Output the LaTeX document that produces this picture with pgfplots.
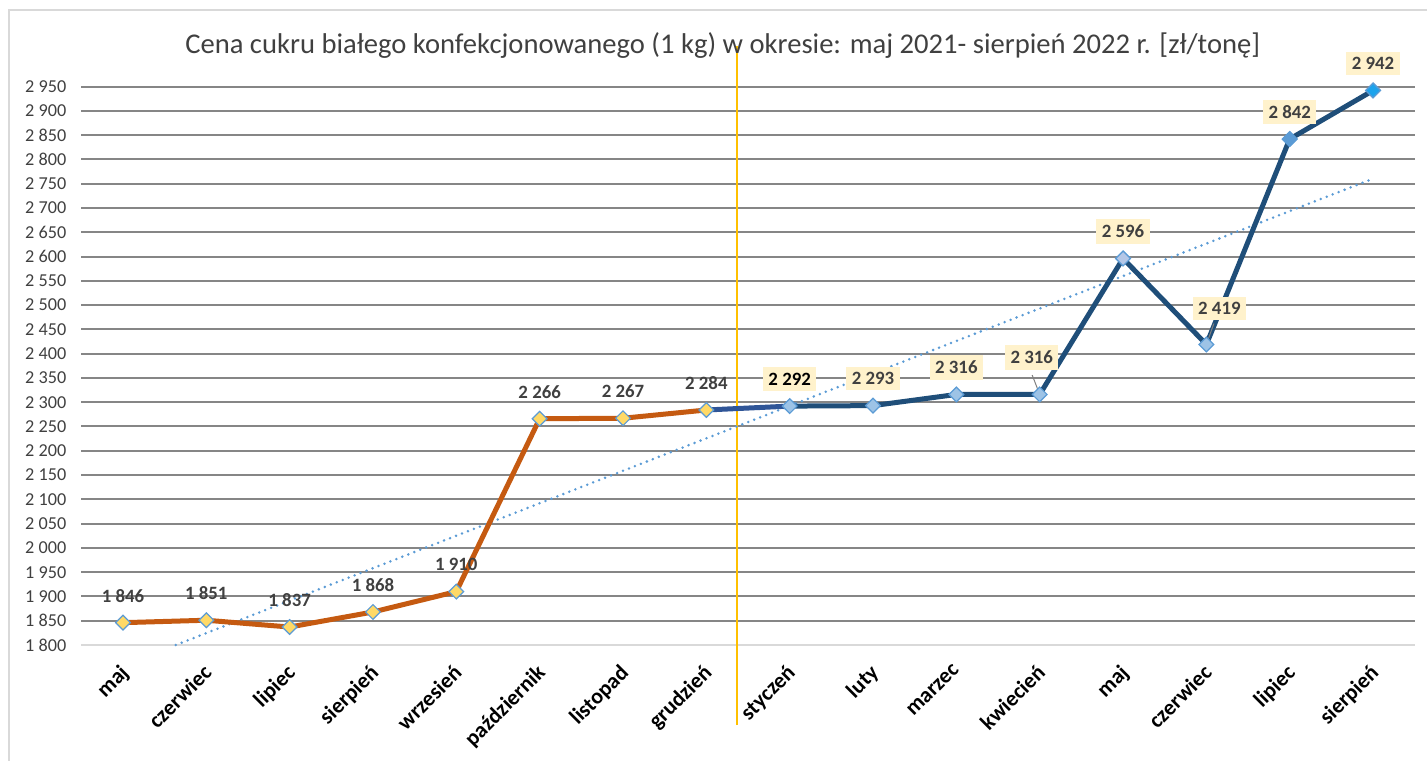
\documentclass[border=0pt]{standalone}
\usepackage{pgfplots}
\pgfplotsset{compat=1.18}
\usepackage{pgfplotstable}
\usepackage{fontspec}
\setmainfont{Carlito}
\definecolor{gridc}{HTML}{868686}
\definecolor{axisc}{HTML}{D9D9D9}
\definecolor{orangeL}{HTML}{C55A11}
\definecolor{blueL}{HTML}{1F4E79}
\definecolor{blueM}{HTML}{2F5597}
\definecolor{mkY}{HTML}{FFD966}
\definecolor{mkE}{HTML}{5B9BD5}
\definecolor{mkB}{HTML}{9DC3E6}
\definecolor{mkL}{HTML}{B4C7E7}
\definecolor{mkS}{HTML}{1CA3EC}
\definecolor{boxc}{HTML}{FFF2CC}
\definecolor{txt}{HTML}{404040}
\definecolor{trend}{HTML}{5B9BD5}
\definecolor{vline}{HTML}{FFC000}

\pgfplotstableread{
x y
0 1846
1 1851
2 1837
3 1868
4 1910
5 2266
6 2267
7 2284
}\first
\pgfplotstableread{
x y
7 2284
8 2292
}\bridge
\pgfplotstableread{
x y
8 2292
9 2293
10 2316
11 2316
12 2596
13 2419
14 2842
15 2942
}\second
\pgfplotstableread{
x y
14 2842
}\markLip
\pgfplotstableread{
x y
15 2942
}\markSie
\pgfplotstableread{
x y
12 2596
}\markMaj
\pgfplotstableread{
x y
9 2293
10 2316
12 2596
14 2842
15 2942
}\labA
\pgfplotstableread{
x y
8 2292
}\labS
\pgfplotstableread{
x y
11 2316
}\labK
\pgfplotstableread{
x y
13 2419
}\labC
\pgfplotstableread{
x y
0.633 1800
15 2760.4
}\trendT

\begin{document}
\begin{tikzpicture}
\pgfkeys{/pgf/number format/.cd, 1000 sep={\ }, assume math mode=true}
\begin{axis}[
  at={(0,0)}, anchor=south west,
  scale only axis, width=666.7pt, height=279.2pt,
  xmin=-0.5, xmax=15.5, ymin=1800, ymax=2950,
  clip=false,
  axis line style={draw=none},
  tick style={draw=none},
  ytick={1800,1850,...,2950},
  ymajorgrids, grid style={gridc, line width=1pt},
  xtick={0,...,15},
  xticklabels={maj,czerwiec,lipiec,sierpień,wrzesień,październik,listopad,grudzień,styczeń,luty,marzec,kwiecień,maj,czerwiec,lipiec,sierpień},
  xticklabel style={xshift=-2.1pt, yshift=-8.8pt, rotate=45, anchor=north east, inner sep=0pt, font=\bfseries\fontsize{11}{13}\selectfont, text=black},
  yticklabel style={font=\fontsize{9.1}{11}\selectfont, text=txt, xshift=-4pt},
  title={Cena cukru białego konfekcjonowanego (1 kg) w okresie: maj 2021- sierpień 2022 r. [zł/tonę]},
  title style={at={(axis description cs:0.481,1.052)}, anchor=center, font=\fontsize{14.3}{16}\selectfont, text=txt},
  mymark/.style={mark=square*, mark size=2.6pt, mark options={rotate=45, fill=#1, draw=mkE, line width=0.6pt}},
]
\draw[axisc, line width=1.2pt] (axis cs:-0.5,1800) -- (axis cs:15.5,1800);
\draw[vline, line width=1pt] (axis cs:7.37,1635) -- (axis cs:7.37,3034);
\addplot[trend, line width=1.4pt, line cap=round, dash pattern=on 0pt off 3.2pt, mark=none] table {\trendT};
\addplot[blueM, line width=2.5pt, mark=none] table {\bridge};
\addplot[blueL, line width=2.5pt, mymark=mkB] table {\second};
\addplot[only marks, mymark=mkL] table {\markMaj};
\addplot[only marks, mymark=mkE] table {\markLip};
\addplot[only marks, mymark=mkS] table {\markSie};
\addplot[orangeL, line width=2.5pt, mymark=mkY] table {\first};
% labels
\addplot[draw=none, mark=none, point meta=y, nodes near coords,
  every node near coord/.append style={anchor=center, yshift=13.5pt, font=\bfseries\fontsize{9.4}{11}\selectfont, text=txt}] table {\first};
\addplot[draw=none, mark=none, point meta=y, nodes near coords,
  every node near coord/.append style={anchor=center, yshift=13.5pt, font=\bfseries\fontsize{9.4}{11}\selectfont, text=txt, fill=boxc, inner xsep=2.8pt, inner ysep=2.8pt}] table {\labA};
\addplot[draw=none, mark=none, point meta=y, nodes near coords,
  every node near coord/.append style={anchor=center, yshift=13.5pt, font=\bfseries\fontsize{9.4}{11}\selectfont, text=black, fill=boxc, inner xsep=2.8pt, inner ysep=2.8pt}] table {\labS};
\draw[gray, line width=0.5pt] (axis cs:11,2316) -- (axis cs:10.91,2356);
\draw[gray, line width=0.5pt] (axis cs:13,2419) -- (axis cs:13.09,2462);
\addplot[draw=none, mark=none, point meta=y, nodes near coords,
  every node near coord/.append style={anchor=center, xshift=-4pt, yshift=18.5pt, font=\bfseries\fontsize{9.4}{11}\selectfont, text=txt, fill=boxc, inner xsep=2.8pt, inner ysep=2.8pt}] table {\labK};
\addplot[draw=none, mark=none, point meta=y, nodes near coords,
  every node near coord/.append style={anchor=center, xshift=6.5pt, yshift=18pt, font=\bfseries\fontsize{9.4}{11}\selectfont, text=txt, fill=boxc, inner xsep=2.8pt, inner ysep=2.8pt}] table {\labC};
\end{axis}
\draw[axisc, line width=1pt] (-36.15pt,-60pt) -- (-36.15pt,317.5pt) -- (675pt,317.5pt);
\pgfresetboundingbox
\useasboundingbox (-40.65pt,-57.5pt) rectangle (672.85pt,322.5pt);
\end{tikzpicture}
\end{document}
